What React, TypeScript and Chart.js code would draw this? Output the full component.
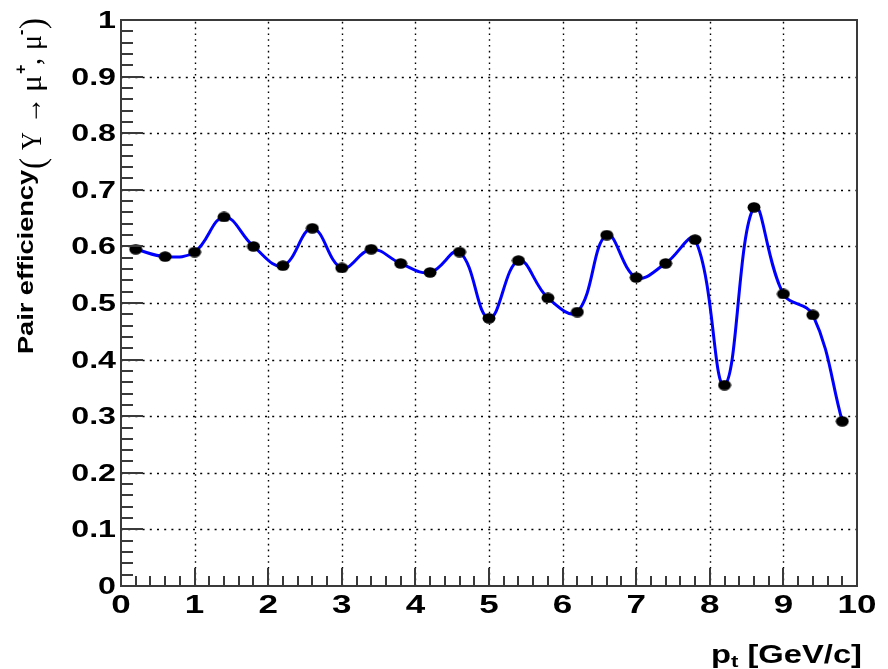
import React, { useEffect, useRef } from 'react';
import { Chart, registerables } from 'chart.js';

Chart.register(...registerables);

// Transverse-momentum bins (bin centres, GeV/c) and the measured pair efficiency
const PT_BINS = [0.2, 0.6, 1.0, 1.4, 1.8, 2.2, 2.6, 3.0, 3.4, 3.8, 4.2, 4.6, 5.0, 5.4, 5.8, 6.2, 6.6, 7.0, 7.4, 7.8, 8.2, 8.6, 9.0, 9.4, 9.8];
const PAIR_EFFICIENCY = [0.595, 0.582, 0.590, 0.652, 0.600, 0.566, 0.632, 0.562, 0.595, 0.570, 0.554, 0.590, 0.473, 0.575, 0.509, 0.484, 0.620, 0.545, 0.570, 0.612, 0.355, 0.669, 0.516, 0.479, 0.291];

const X_TICKS = [0, 1, 2, 3, 4, 5, 6, 7, 8, 9, 10];
const X_TICK_LABELS = ['0', '1', '2', '3', '4', '5', '6', '7', '8', '9', '10'];
const Y_TICKS = [0, 0.1, 0.2, 0.3, 0.4, 0.5, 0.6, 0.7, 0.8, 0.9, 1];
const Y_TICK_LABELS = ['0', '0.1', '0.2', '0.3', '0.4', '0.5', '0.6', '0.7', '0.8', '0.9', '1'];
const X_MINOR_DIVISIONS = 5;
const Y_MINOR_DIVISIONS = 5;

const SANS = "'Liberation Sans', Arial, Helvetica, sans-serif";
const SERIF = "'Liberation Serif', 'DejaVu Serif', serif";
const AXIS_COLOR = '#3a3a3a';

function makeMarker(): HTMLCanvasElement {
  const c = document.createElement('canvas');
  c.width = 14;
  c.height = 11;
  const g = c.getContext('2d')!;
  g.fillStyle = '#000';
  g.beginPath();
  g.ellipse(7, 5.5, 6.5, 5.2, 0, 0, Math.PI * 2);
  g.fill();
  return c;
}

// horizontal text, stretched along its own direction
function hText(ctx: CanvasRenderingContext2D, text: string, x: number, y: number, font: string, sx: number, align: 'left' | 'center' | 'right') {
  ctx.save();
  ctx.font = font;
  ctx.textBaseline = 'alphabetic';
  const w = ctx.measureText(text).width * sx;
  let x0 = x;
  if (align === 'center') x0 = x - w / 2;
  if (align === 'right') x0 = x - w;
  ctx.translate(x0, y);
  ctx.scale(sx, 1);
  ctx.textAlign = 'left';
  ctx.fillText(text, 0, 0);
  ctx.restore();
}

// vertical text reading bottom-to-top; baseX is the baseline column, startY where the text begins
function vText(ctx: CanvasRenderingContext2D, text: string, baseX: number, startY: number, font: string, fitLength?: number) {
  ctx.save();
  ctx.font = font;
  ctx.textBaseline = 'alphabetic';
  ctx.textAlign = 'left';
  const w = ctx.measureText(text).width;
  const s = fitLength ? fitLength / w : 1;
  ctx.translate(baseX, startY);
  ctx.rotate(-Math.PI / 2);
  ctx.scale(s, 1);
  ctx.fillText(text, 0, 0);
  ctx.restore();
}

const rootFrame = {
  id: 'rootFrame',
  beforeDatasetsDraw(chart: any) {
    const { ctx, chartArea: a, scales } = chart;
    const x = scales.x;
    const y = scales.y;
    ctx.save();
    ctx.strokeStyle = '#000';
    ctx.lineWidth = 1.4;
    ctx.setLineDash([1.6, 4.2]);
    for (const v of X_TICKS) {
      if (v <= x.min || v >= x.max) continue;
      const px = Math.round(x.getPixelForValue(v)) + 0.5;
      ctx.beginPath();
      ctx.moveTo(px, a.bottom);
      ctx.lineTo(px, a.top);
      ctx.stroke();
    }
    ctx.setLineDash([2, 5.2]);
    for (const v of Y_TICKS) {
      if (v <= y.min || v >= y.max) continue;
      const py = Math.round(y.getPixelForValue(v)) + 0.5;
      ctx.beginPath();
      ctx.moveTo(a.left, py);
      ctx.lineTo(a.right, py);
      ctx.stroke();
    }
    ctx.restore();
  },
  afterDraw(chart: any) {
    const { ctx, chartArea: a, scales } = chart;
    const x = scales.x;
    const y = scales.y;
    ctx.save();

    // frame
    ctx.strokeStyle = AXIS_COLOR;
    ctx.lineWidth = 2;
    ctx.strokeRect(a.left, a.top, a.right - a.left, a.bottom - a.top);

    // inward tick marks, major and minor
    ctx.beginPath();
    for (let i = 0; i < X_TICKS.length; i++) {
      const px = Math.round(x.getPixelForValue(X_TICKS[i]));
      ctx.moveTo(px, a.bottom);
      ctx.lineTo(px, a.bottom - 18);
      if (i < X_TICKS.length - 1) {
        const step = (X_TICKS[i + 1] - X_TICKS[i]) / X_MINOR_DIVISIONS;
        for (let k = 1; k < X_MINOR_DIVISIONS; k++) {
          const mx = Math.round(x.getPixelForValue(X_TICKS[i] + k * step));
          ctx.moveTo(mx, a.bottom);
          ctx.lineTo(mx, a.bottom - 10);
        }
      }
    }
    for (let i = 0; i < Y_TICKS.length; i++) {
      const py = Math.round(y.getPixelForValue(Y_TICKS[i]));
      ctx.moveTo(a.left, py);
      ctx.lineTo(a.left + 22, py);
      if (i < Y_TICKS.length - 1) {
        const step = (Y_TICKS[i + 1] - Y_TICKS[i]) / Y_MINOR_DIVISIONS;
        for (let k = 1; k < Y_MINOR_DIVISIONS; k++) {
          const my = Math.round(y.getPixelForValue(Y_TICKS[i] + k * step));
          ctx.moveTo(a.left, my);
          ctx.lineTo(a.left + 12, my);
        }
      }
    }
    ctx.stroke();

    // tick labels
    ctx.fillStyle = '#000';
    X_TICKS.forEach((v, i) => {
      hText(ctx, X_TICK_LABELS[i], x.getPixelForValue(v), a.bottom + 27, `bold 25px ${SANS}`, 1.4, 'center');
    });
    Y_TICKS.forEach((v, i) => {
      hText(ctx, Y_TICK_LABELS[i], a.left - 5, y.getPixelForValue(v) + 8, `bold 23px ${SANS}`, 1.4, 'right');
    });

    // x-axis title: p_t [GeV/c]
    {
      const big = `bold 25px ${SANS}`;
      const sub = `bold 17px ${SANS}`;
      ctx.font = big;
      const wp = ctx.measureText('p').width;
      const wr = ctx.measureText(' [GeV/c]').width;
      ctx.font = sub;
      const wt = ctx.measureText('t').width;
      const total = wp + wt + wr;
      const sx = 151 / total;
      const right = a.right + 5;
      let cx = right - total * sx;
      const base = 663;
      hText(ctx, 'p', cx, base, big, sx, 'left');
      cx += wp * sx;
      hText(ctx, 't', cx, base + 4, sub, sx, 'left');
      cx += wt * sx;
      hText(ctx, ' [GeV/c]', cx, base, big, sx, 'left');
    }

    // y-axis title: Pair efficiency (Υ → μ+, μ-)
    {
      vText(ctx, 'Pair efficiency', 33, 354, `bold 22px ${SANS}`, 184);
      vText(ctx, '(', 44, 169, `36px ${SERIF}`, 11);
      vText(ctx, '\u03A5', 41, 150, `30px ${SERIF}`, 18);
      vText(ctx, '\u2192', 41, 124, `30px ${SERIF}`, 27);
      vText(ctx, '\u03BC', 41, 92, `30px ${SERIF}`, 17);
      vText(ctx, '+', 26, 74, `bold 16px ${SANS}`);
      vText(ctx, ',', 40, 65, `30px ${SERIF}`, 7);
      vText(ctx, '\u03BC', 41, 50, `30px ${SERIF}`, 15);
      vText(ctx, '-', 26, 35, `bold 16px ${SANS}`);
      vText(ctx, ')', 44, 29, `36px ${SERIF}`, 11);
    }

    ctx.restore();
  },
};

export default function App() {
  const canvasRef = useRef<HTMLCanvasElement | null>(null);

  useEffect(() => {
    const canvas = canvasRef.current;
    if (!canvas) return;
    const marker = makeMarker();
    const chart = new Chart(canvas, {
      type: 'line',
      data: {
        datasets: [
          {
            data: PT_BINS.map((pt, i) => ({ x: pt, y: PAIR_EFFICIENCY[i] })),
            borderColor: '#0000ff',
            borderWidth: 3,
            tension: 0.4,
            fill: false,
            pointStyle: marker as any,
            pointRadius: 6,
            pointHoverRadius: 6,
          },
        ],
      },
      options: {
        responsive: false,
        animation: false,
        devicePixelRatio: 1,
        layout: { padding: { left: 0, right: 31, top: 20, bottom: 0 } },
        plugins: { legend: { display: false }, tooltip: { enabled: false } },
        events: [],
        scales: {
          x: {
            type: 'linear',
            min: 0,
            max: 10,
            ticks: { display: false, stepSize: 1 },
            grid: { display: false },
            border: { display: false },
            afterFit: (s: any) => {
              s.height = 83;
            },
          },
          y: {
            type: 'linear',
            min: 0,
            max: 1,
            ticks: { display: false, stepSize: 0.1 },
            grid: { display: false },
            border: { display: false },
            afterFit: (s: any) => {
              s.width = 121;
            },
          },
        },
      },
      plugins: [rootFrame],
    });
    return () => chart.destroy();
  }, []);

  return (
    <div style={{ position: 'fixed', left: 0, top: 0, width: 888, height: 669, background: '#fff' }}>
      <canvas ref={canvasRef} width={888} height={669} style={{ display: 'block' }} />
    </div>
  );
}
